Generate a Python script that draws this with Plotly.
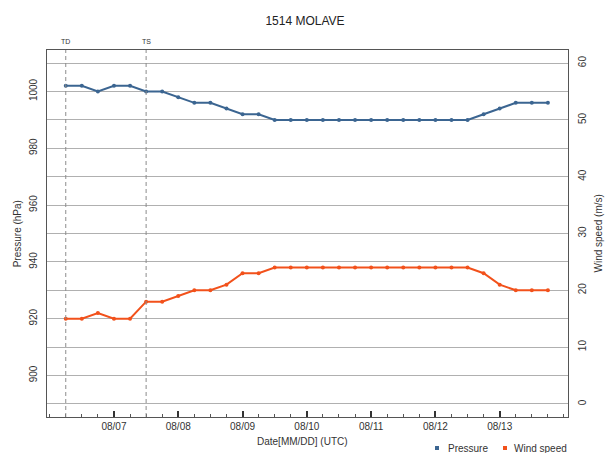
import pandas as pd
import plotly.graph_objects as go

# Best-track of typhoon 1514 MOLAVE, 6-hourly from 2015-08-06 06 UTC
start_time = "2015-08-06 06:00"
pressure_hpa = [1002, 1002, 1000, 1002, 1002, 1000, 1000, 998, 996, 996,
                994, 992, 992, 990, 990, 990, 990, 990, 990, 990,
                990, 990, 990, 990, 990, 990, 992, 994, 996, 996, 996]
wind_ms = [15, 15, 16, 15, 15, 18, 18, 19, 20, 20,
           21, 23, 23, 24, 24, 24, 24, 24, 24, 24,
           24, 24, 24, 24, 24, 24, 23, 21, 20, 20, 20]
stage_labels = ["TD", "TS"]
stage_times = ["2015-08-06 06:00", "2015-08-07 12:00"]
day_ticks = ["2015-08-07", "2015-08-08", "2015-08-09", "2015-08-10",
             "2015-08-11", "2015-08-12", "2015-08-13"]
series_names = ["Pressure", "Wind speed"]

times = pd.date_range(start_time, periods=len(pressure_hpa), freq="6h")

FONT = "Liberation Sans, Arial, sans-serif"
P_COLOR = "#3b6591"
W_COLOR = "#f2511b"
TXT = "#333333"

# pressure axis range; wind axis is tied so that 10 hPa == 5 m/s (920 hPa <-> 15 m/s)
p_range = [885.4, 1014.6]
w_range = [15 + (p - 920) / 2 for p in p_range]

fig = go.Figure()
fig.add_trace(go.Scatter(
    x=times, y=pressure_hpa, mode="lines+markers", name=series_names[0],
    line=dict(color=P_COLOR, width=2), marker=dict(color=P_COLOR, size=4),
    showlegend=False, yaxis="y"))
fig.add_trace(go.Scatter(
    x=times, y=wind_ms, mode="lines+markers", name=series_names[1],
    line=dict(color=W_COLOR, width=2), marker=dict(color=W_COLOR, size=4),
    showlegend=False, yaxis="y2"))

# stage markers
for lab, t in zip(stage_labels, stage_times):
    fig.add_shape(type="line", xref="x", yref="paper", x0=t, x1=t, y0=0, y1=1,
                  line=dict(color="#8c8c8c", width=1, dash="4px,3px"))
    fig.add_annotation(x=t, y=1.0, xref="x", yref="paper", text=lab,
                       showarrow=False, yanchor="bottom", yshift=3,
                       font=dict(size=7, color=TXT, family=FONT))

# axis titles
fig.add_annotation(x=0.49, y=-0.066, xref="paper", yref="paper",
                   text="Date[MM/DD] (UTC)", showarrow=False,
                   xanchor="center", yanchor="middle",
                   font=dict(size=10, color=TXT, family=FONT))
fig.add_annotation(x=-0.056, y=0.5, xref="paper", yref="paper",
                   text="Pressure (hPa)", textangle=-90, showarrow=False,
                   xanchor="center", yanchor="middle",
                   font=dict(size=10, color=TXT, family=FONT))
fig.add_annotation(x=1.0576, y=0.5, xref="paper", yref="paper",
                   text="Wind speed (m/s)", textangle=-90, showarrow=False,
                   xanchor="center", yanchor="middle",
                   font=dict(size=10, color=TXT, family=FONT))

# legend: small colour squares followed by series names
legend_y = -0.0845
for name, col, mx, tx in [(series_names[0], P_COLOR, 0.7486, 0.7658),
                          (series_names[1], W_COLOR, 0.8791, 0.8925)]:
    fig.add_shape(type="rect", xref="paper", yref="paper",
                  xsizemode="pixel", ysizemode="pixel",
                  xanchor=mx, yanchor=legend_y, x0=-2, x1=2, y0=-2, y1=2,
                  fillcolor=col, line=dict(width=0))
    fig.add_annotation(x=tx, y=legend_y, xref="paper", yref="paper",
                       text=name, showarrow=False, xanchor="left",
                       yanchor="middle",
                       font=dict(size=10, color=TXT, family=FONT))

p_ticks = list(range(890, 1011, 10))
p_text = [str(v) if v % 20 == 0 else "" for v in p_ticks]

fig.update_layout(
    width=610, height=453,
    margin=dict(l=47, r=42, t=50, b=36),
    paper_bgcolor="white", plot_bgcolor="white",
    font=dict(family=FONT, size=10, color=TXT),
    showlegend=False,
    title=dict(text="1514 MOLAVE", x=0.5, xanchor="center", y=0.955,
               yanchor="middle", font=dict(size=12, color="#222")),
    xaxis=dict(
        type="date", range=["2015-08-05 23:00", "2015-08-14 01:30"],
        tickmode="array", tickvals=day_ticks, tickformat="%m/%d",
        ticks="inside", ticklen=6, tickwidth=2, tickcolor=TXT,
        minor=dict(dtick=6 * 3600 * 1000, tick0="2015-08-06",
                   ticks="inside", ticklen=3,
                   tickwidth=1, tickcolor="#555", showgrid=False),
        showgrid=False, showline=True, linecolor="#555", linewidth=1,
        mirror=True, zeroline=False, automargin=False,
        tickfont=dict(size=10, color=TXT),
    ),
    yaxis=dict(
        range=p_range, tickmode="array", tickvals=p_ticks, ticktext=p_text,
        tickangle=-90, showgrid=True, gridcolor="#b0b0b0", gridwidth=1,
        showline=True, linecolor="#555", linewidth=1, mirror=True,
        zeroline=False, ticks="", automargin=False, ticklabelstandoff=5,
        tickfont=dict(size=10, color=TXT),
    ),
    yaxis2=dict(
        range=w_range, overlaying="y", side="right", anchor="x",
        tickmode="array", tickvals=list(range(0, 61, 10)),
        tickangle=-90, showgrid=False, zeroline=False, ticks="",
        showline=False, automargin=False, ticklabelstandoff=7,
        tickfont=dict(size=10, color=TXT),
    ),
)

fig.write_html("out.html")
